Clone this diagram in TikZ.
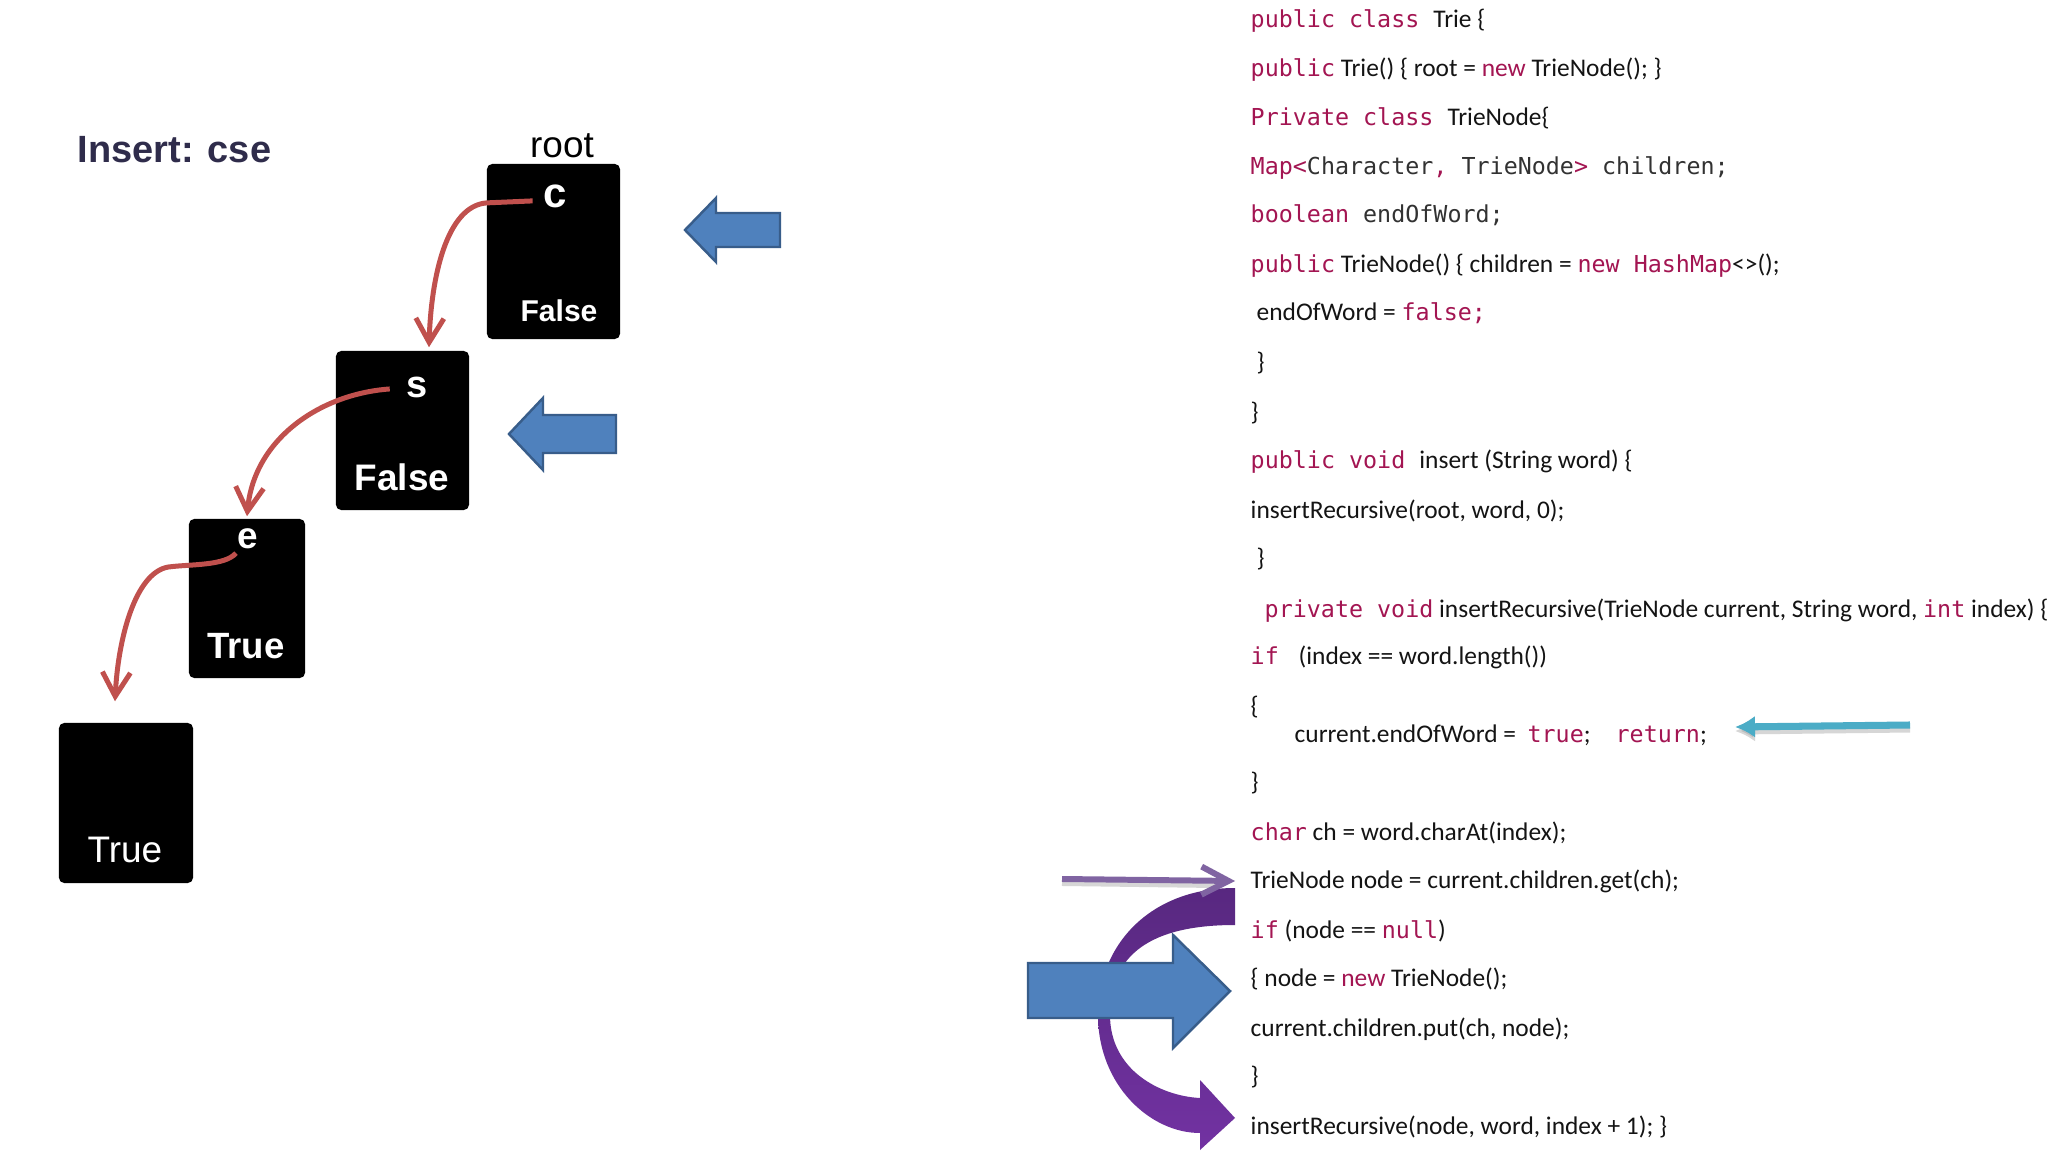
\documentclass[tikz,border=0pt]{standalone}
\usepackage{fontspec}
\setmainfont{Carlito}
\newfontfamily\diagfont{Liberation Sans}
\newfontfamily\monofont{DejaVu Sans Mono}
\usetikzlibrary{arrows.meta}

\definecolor{kwred}{RGB}{163,21,82}
\definecolor{codeblack}{RGB}{20,20,20}
\definecolor{monogray}{RGB}{50,50,50}
\definecolor{arrowred}{RGB}{192,80,77}
\definecolor{boxblue}{RGB}{79,129,189}
\definecolor{boxblueline}{RGB}{56,93,138}
\definecolor{tealarrow}{RGB}{75,172,198}
\definecolor{thinpurple}{RGB}{128,100,162}
\definecolor{purpletop}{RGB}{88,40,128}
\definecolor{purplebot}{RGB}{114,50,162}
\definecolor{titleink}{RGB}{47,44,75}

\newcommand{\kw}[1]{{\monofont\fontsize{6.64}{8}\selectfont\color{kwred}#1}}
\newcommand{\cd}[1]{{\monofont\fontsize{6.64}{8}\selectfont\color{monogray}#1}}
\newcommand{\kwc}[1]{{\color{kwred}#1}}

\tikzset{
  codeline/.style={anchor=base west, inner sep=0pt, text=codeblack,
    font=\fontsize{7.23}{9}\selectfont},
  trienode/.style={fill=black, rounded corners=1.5pt, inner sep=0pt},
  nodetext/.style={anchor=base, inner sep=0pt, text=white},
  treearrow/.style={draw=arrowred, line width=1.42pt,
    -{Straight Barb[length=2.4mm,width=2.8mm]}},
  blockarrow/.style={fill=boxblue, draw=boxblueline, line width=0.7pt, line join=miter}
}

\begin{document}
\begin{tikzpicture}[x=0.01cm, y=-0.01cm]

	\useasboundingbox (0,0) rectangle (2048,1152);
	\fill[white] (0,0) rectangle (2048,1152);

	% trie on the left
	\node (title) at (77,163) [anchor=base west, inner sep=0pt, text=titleink,
	      font=\diagfont\bfseries\fontsize{10.8}{13}\selectfont] {Insert: cse};
	\node (rootl) at (562,158) [anchor=base, inner sep=0pt,
	      font=\diagfont\fontsize{10.5}{13}\selectfont] {root};

	\node (box1) at (553.5,251.5) [trienode, minimum width=1.33cm, minimum height=1.75cm] {};
	\node (box2) at (402.5,430.5) [trienode, minimum width=1.33cm, minimum height=1.59cm] {};
	\node (box3) at (247,598.5)   [trienode, minimum width=1.16cm, minimum height=1.59cm] {};
	\node (box4) at (126,803)     [trienode, minimum width=1.34cm, minimum height=1.60cm] {};

	\node (cl) at (555,208) [nodetext, font=\diagfont\bfseries\fontsize{11.95}{14}\selectfont] {c};
	\node (f1) at (559,322) [nodetext, font=\diagfont\bfseries\fontsize{8.55}{10}\selectfont] {False};
	\node (sl) at (417,398) [nodetext, font=\diagfont\bfseries\fontsize{10.8}{13}\selectfont] {s};
	\node (f2) at (402,491) [nodetext, font=\diagfont\bfseries\fontsize{10.5}{13}\selectfont] {False};
	\node (el) at (248,548) [nodetext, font=\diagfont\bfseries\fontsize{10.5}{13}\selectfont] {e};
	\node (t3) at (246,658) [nodetext, font=\diagfont\bfseries\fontsize{10.4}{13}\selectfont] {True};
	\node (t4) at (125,862) [nodetext, font=\diagfont\fontsize{10.5}{13}\selectfont] {True};

	\draw[treearrow] ([shift={(-10,4)}]cl.west) -- ++(-46,2)
	      .. controls +(-40,3) and +(2,-70) .. ([shift={(26.5,-3)}]box2.north);
	\draw[treearrow] ([shift={(-16,1)}]sl.west)
	      .. controls +(-70,5) and +(7,-77) .. ([shift={(0,-2)}]box3.north);
	\draw[treearrow] ([shift={(-12,4)}]el.south)
	      .. controls +(-11,13) and +(22,-3) .. ++(-68,14)
	      .. controls +(-33,6) and +(3,-62) .. ([shift={(-11,-21)}]box4.north);

	% blue pointers
	\draw[blockarrow] (685,230) -- (716,198) -- (716,213) -- (780,213)
	      -- (780,247) -- (716,247) -- (716,262) -- cycle;
	\draw[blockarrow] (509,434) -- (543,398) -- (543,415) -- (616,415)
	      -- (616,453) -- (543,453) -- (543,470) -- cycle;

	% code
	\node (l1)  at (1250,28)   [codeline] {\kw{public class }Trie \{};
	\node (l2)  at (1250,77)   [codeline] {\kw{public} Trie() \{ root = \kwc{new} TrieNode(); \}};
	\node (l3)  at (1250,126)  [codeline] {\kw{Private class }TrieNode\{};
	\node (l4)  at (1250,175)  [codeline] {\kw{Map<}\cd{Character}\kw{, }\cd{TrieNode}\kw{> }\cd{children;}};
	\node (l5)  at (1250,223)  [codeline] {\kw{boolean }\cd{endOfWord;}};
	\node (l6)  at (1250,273)  [codeline] {\kw{public} TrieNode() \{ children = \kw{new HashMap}<>();};
	\node (l7)  at (1256,321)  [codeline] {endOfWord = \kw{false;}};
	\node (l8)  at (1256,371)  [codeline] {\}};
	\node (l9)  at (1250,421)  [codeline] {\}};
	\node (l10) at (1250,469)  [codeline] {\kw{public void }insert (String word) \{};
	\node (l11) at (1250,519)  [codeline] {insertRecursive(root, word, 0);};
	\node (l12) at (1256,567)  [codeline] {\}};
	\node (l13) at (1264,617)  [codeline] {\kw{private void} insertRecursive(TrieNode current, String word, \kw{int} index) \{};
	\node (l14) at (1250,665)  [codeline] {\kw{if } (index == word.length())};
	\node (l15) at (1250,715)  [codeline] {\{};
	\node (l16) at (1294,742)  [codeline] {current.endOfWord = \ \kw{true};\hspace{0.25cm}\kw{return};};
	\node (l17) at (1250,790)  [codeline] {\}};
	\node (l18) at (1250,840)  [codeline] {\kw{char} ch = word.charAt(index);};
	\node (l19) at (1250,888)  [codeline] {TrieNode node = current.children.get(ch);};
	\node (l20) at (1250,938)  [codeline] {\kw{if} (node == \kw{null})};
	\node (l21) at (1250,986)  [codeline] {\{ node = \kwc{new} TrieNode();};
	\node (l22) at (1250,1036) [codeline] {current.children.put(ch, node);};
	\node (l23) at (1250,1084) [codeline] {\}};
	\node (l24) at (1250,1134) [codeline] {insertRecursive(node, word, index + 1); \}};

	% return pointer
	\coordinate (retTail) at (1910,725);
	\coordinate (retTip)  at (1735,727);
	\draw[black!40, opacity=0.4, line width=2pt, -{Latex[length=2mm,width=2.2mm]}]
	      ([shift={(0,4)}]retTail) -- ([shift={(0,4)}]retTip);
	\draw[tealarrow, line width=2pt, -{Latex[length=2mm,width=2.2mm]}] (retTail) -- (retTip);

	% curved purple arrow
	\shade[top color=purpletop, bottom color=purplebot]
	      (1235,888) .. controls (1150,888) and (1098,945) .. (1098,1015)
	      .. controls (1098,1085) and (1150,1133) .. (1200,1133)
	      -- (1200,1150) -- (1235,1118) -- (1200,1080) -- (1200,1098)
	      .. controls (1160,1096) and (1110,1070) .. (1110,1015)
	      .. controls (1110,955) and (1150,925) .. (1235,925) -- cycle;

	% get pointer
	\coordinate (getTail) at (1062,879);
	\coordinate (getTip)  at (1235,881);
	\draw[black!40, opacity=0.4, line width=1.7pt] ([shift={(0,4)}]getTail) -- ([shift={(-20,4)}]getTip);
	\draw[thinpurple, line width=1.7pt, -{Straight Barb[length=2.7mm,width=2.8mm]}] (getTail) -- (getTip);

	% big blue arrow
	\draw[blockarrow] (1028,963) -- (1173,963) -- (1173,935) -- (1230,991)
	      -- (1173,1048) -- (1173,1018) -- (1028,1018) -- cycle;

\end{tikzpicture}
\end{document}
